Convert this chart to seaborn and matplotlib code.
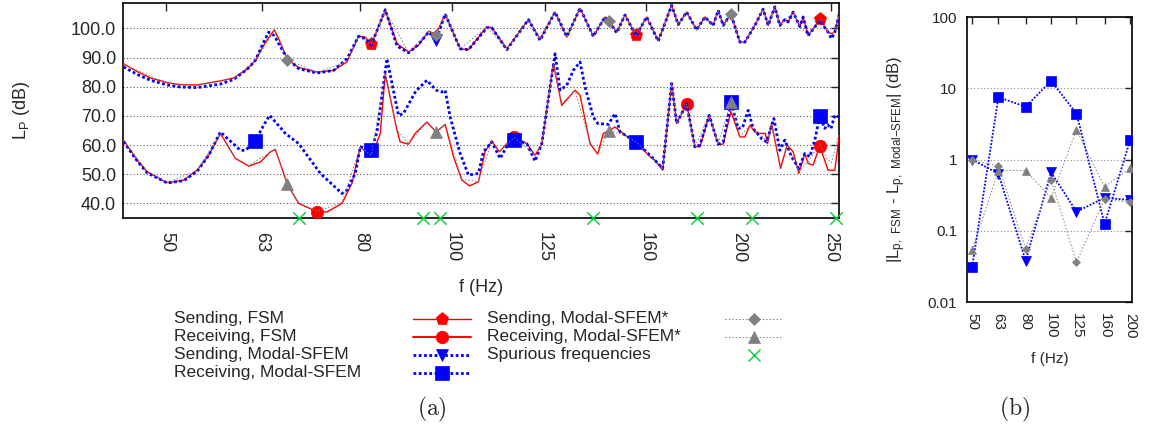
import numpy as np
import matplotlib
matplotlib.use("Agg")
import matplotlib.pyplot as plt
from matplotlib.lines import Line2D
from matplotlib.ticker import NullLocator
import seaborn as sns

# ---------------------------------------------------------------- data (a)
# sound pressure level in the sending room, frequency grid shared by FSM and Modal-SFEM
f_snd = [45.06, 46.58, 48.10, 50.08, 51.72, 53.86, 56.98, 58.85, 60.79, 62.02,
         63.28, 64.05, 64.94, 65.62, 67.02, 68.88, 72.02, 74.97, 77.44, 79.65,
         80.95, 82.14, 84.97, 87.41, 89.90, 92.10, 94.36, 96.14, 98.25, 101.89,
         103.96, 108.69, 110.01, 114.08, 120.21, 123.66, 128.23, 131.92, 136.24, 140.69,
         144.74, 146.15, 148.90, 151.92, 156.02, 160.11, 164.67, 170.11, 172.85, 176.40,
         180.72, 184.39, 188.13, 190.42, 192.74, 196.37, 200.70, 203.14, 208.12, 212.34,
         214.93, 218.45, 221.11, 223.80, 225.60, 228.35, 232.08, 233.94, 236.79, 243.59,
         248.53, 250.61, 252.62, 255.26]
snd_fsm = [87.9, 85.2, 83.0, 81.4, 80.7, 80.6, 82.0, 83.0, 86.0, 89.0,
           94.2, 96.8, 99.5, 96.5, 89.4, 86.6, 85.0, 85.6, 88.5, 97.3,
           97.0, 94.5, 106.2, 94.8, 91.9, 94.2, 99.0, 98.0, 104.9, 93.0,
           92.7, 100.5, 100.2, 93.0, 103.0, 96.3, 105.6, 97.0, 106.9, 97.3,
           103.9, 102.5, 98.7, 104.6, 97.6, 103.9, 95.8, 107.9, 101.3, 105.6,
           99.5, 103.9, 101.0, 106.2, 101.0, 105.0, 95.3, 95.3, 101.0, 106.6,
           101.0, 107.4, 101.0, 103.0, 102.2, 105.6, 100.6, 103.9, 97.5, 103.1,
           98.7, 98.2, 98.7, 104.7]
snd_modal = [86.8, 84.2, 82.2, 80.6, 79.9, 79.7, 80.9, 82.5, 86.0, 89.0,
             95.3, 98.7, 97.5, 94.8, 89.6, 86.2, 84.7, 85.6, 89.6, 97.3,
             96.5, 94.3, 106.4, 94.0, 91.6, 94.5, 98.7, 96.1, 104.9, 93.0,
             92.7, 100.2, 100.2, 92.7, 103.0, 95.9, 105.6, 97.2, 106.9, 97.3,
             103.9, 102.4, 98.5, 104.6, 97.4, 103.9, 95.6, 107.9, 101.3, 105.6,
             99.5, 103.9, 101.0, 106.2, 101.0, 105.0, 95.3, 95.3, 101.0, 106.6,
             101.0, 107.4, 101.0, 103.0, 102.2, 105.6, 100.6, 103.9, 97.5, 102.7,
             98.7, 96.5, 98.7, 104.7]

# receiving room, FSM
f_rcv_fsm = [45.06, 46.58, 47.72, 50.08, 52.14, 53.86, 55.39, 56.98, 59.09, 61.03,
             62.78, 64.32, 65.10, 67.02, 68.88, 72.07, 73.78, 76.51, 78.39, 79.98,
             82.14, 83.95, 84.97, 87.41, 88.11, 89.90, 91.37, 93.99, 96.14, 98.25,
             100.25, 102.31, 104.21, 106.50, 108.20, 110.01, 112.06, 115.00, 116.11, 119.74,
             122.17, 124.17, 127.71, 130.33, 134.60, 136.24, 139.57, 142.20, 144.14, 146.15,
             148.28, 151.92, 156.02, 161.40, 163.36, 166.44, 170.11, 172.18, 176.40, 179.98,
             182.17, 186.32, 190.42, 192.74, 196.37, 200.70, 203.14, 205.61, 208.12, 210.66,
             213.50, 214.62, 216.71, 221.49, 225.05, 228.35, 231.52, 234.90, 236.79, 239.67,
             243.59, 248.53, 252.62, 255.26]
rcv_fsm = [61.7, 54.8, 50.8, 47.1, 48.0, 51.4, 56.5, 64.0, 55.4, 52.8,
           54.2, 57.7, 58.5, 46.6, 40.0, 37.1, 37.1, 40.0, 46.9, 59.4,
           56.0, 64.0, 84.5, 65.1, 61.1, 60.3, 64.0, 67.9, 64.5, 67.1,
           56.0, 48.0, 46.0, 47.4, 57.7, 61.4, 57.7, 61.7, 62.8, 60.5,
           56.5, 60.3, 87.9, 73.6, 78.8, 77.1, 60.5, 56.9, 64.0, 64.9,
           66.2, 63.4, 61.1, 56.0, 54.8, 51.4, 81.1, 67.4, 74.2, 59.4,
           59.4, 70.2, 60.3, 60.3, 71.5, 62.8, 62.8, 66.8, 64.5, 64.0,
           64.0, 60.5, 67.4, 52.0, 60.0, 57.7, 50.3, 57.1, 53.7, 53.1,
           59.7, 51.4, 51.4, 62.8]

# receiving room, Modal-SFEM
f_rcv_modal = [45.06, 46.58, 47.72, 50.08, 52.14, 53.86, 55.39, 56.98, 59.81, 60.54,
               62.02, 63.28, 64.21, 66.70, 68.88, 72.60, 76.51, 77.44, 79.02, 79.98,
               82.14, 83.28, 85.32, 87.75, 88.80, 91.50, 93.99, 96.14, 97.47, 98.25,
               99.45, 101.89, 103.96, 106.50, 107.80, 110.01, 112.25, 115.00, 116.11, 119.74,
               122.17, 124.17, 128.23, 129.80, 131.92, 134.04, 136.24, 137.90, 140.69, 142.20,
               145.90, 148.28, 150.09, 156.02, 161.40, 163.36, 166.44, 170.11, 172.18, 176.40,
               179.98, 182.17, 186.32, 190.42, 192.74, 196.37, 199.90, 202.00, 204.77, 207.26,
               211.52, 214.10, 217.92, 221.11, 223.80, 227.46, 231.52, 234.90, 237.76, 240.66,
               243.59, 246.56, 248.20, 250.30, 252.62, 255.26]
rcv_modal = [61.2, 54.5, 50.5, 47.0, 47.8, 51.0, 56.5, 64.5, 58.2, 58.2,
             61.4, 66.8, 70.2, 64.0, 60.5, 50.3, 43.4, 44.6, 50.3, 59.4,
             58.2, 64.5, 89.6, 70.2, 70.8, 78.5, 82.2, 78.8, 78.2, 78.8,
             69.6, 57.1, 49.7, 50.3, 57.7, 61.1, 55.4, 61.7, 61.9, 60.5,
             54.5, 60.5, 91.3, 78.8, 80.5, 85.6, 88.5, 79.9, 69.6, 67.4,
             67.1, 70.8, 64.5, 61.1, 56.5, 54.8, 52.0, 81.1, 67.4, 74.2,
             59.4, 60.0, 70.2, 60.3, 61.0, 74.8, 65.7, 66.0, 71.9, 65.7,
             62.2, 61.1, 69.1, 58.2, 61.7, 56.0, 52.0, 57.1, 56.0, 61.7,
             70.0, 65.7, 67.0, 65.7, 70.2, 69.6]

# Modal-SFEM* (sending / receiving)
f_snd_star = [45.06, 50.08, 53.86, 58.85, 62.02, 64.94, 67.02, 72.02, 77.44, 79.65,
              82.14, 84.97, 89.90, 94.36, 96.14, 98.25, 101.89, 108.69, 114.08, 120.21,
              123.66, 128.23, 131.92, 136.24, 140.69, 144.74, 146.15, 148.90, 151.92, 156.02,
              160.11, 164.67, 170.11, 172.85, 176.40, 180.72, 184.39, 188.13, 190.42, 192.74,
              196.37, 200.70, 203.14, 208.12, 212.34, 214.93, 218.45, 221.11, 228.35, 232.08,
              236.79, 243.59, 248.53, 252.62, 255.26]
snd_star = [87.6, 81.2, 80.4, 82.8, 89.0, 99.2, 89.3, 84.9, 88.6, 97.2,
            94.6, 106.2, 91.8, 98.9, 97.7, 104.9, 93.1, 100.4, 93.0, 103.0,
            96.3, 105.6, 97.1, 106.8, 97.3, 103.8, 102.4, 98.7, 104.5, 97.7,
            103.8, 95.8, 107.8, 101.3, 105.5, 99.5, 103.9, 101.0, 106.1, 101.0,
            105.0, 95.4, 95.4, 101.0, 106.5, 101.1, 107.3, 101.1, 105.5, 100.7,
            97.6, 103.0, 98.6, 98.6, 104.6]
f_rcv_star = [45.06, 47.72, 50.08, 53.86, 56.98, 59.09, 61.03, 64.32, 65.10, 67.02,
              68.88, 72.07, 76.51, 79.98, 82.14, 84.97, 87.41, 89.90, 93.99, 96.14,
              98.25, 102.31, 106.50, 110.01, 112.06, 116.11, 122.17, 124.17, 127.71, 130.33,
              134.60, 139.57, 142.20, 146.15, 151.92, 156.02, 161.40, 166.44, 170.11, 172.18,
              176.40, 179.98, 186.32, 190.42, 196.37, 200.70, 205.61, 210.66, 214.62, 216.71,
              221.49, 225.05, 231.52, 236.79, 243.59, 247.50, 250.61, 255.26]
rcv_star = [61.5, 51.0, 47.2, 51.3, 64.0, 55.6, 53.0, 57.6, 58.4, 46.6,
            40.2, 37.3, 40.3, 59.3, 56.5, 84.3, 65.3, 60.5, 67.8, 64.5,
            67.0, 48.2, 47.6, 61.3, 57.9, 62.6, 56.6, 60.2, 87.6, 74.3,
            78.6, 60.9, 57.0, 64.9, 63.4, 61.1, 56.2, 51.6, 81.0, 67.5,
            74.1, 59.5, 70.2, 60.4, 74.8, 63.0, 66.6, 64.0, 60.8, 67.0,
            53.0, 60.0, 51.0, 54.2, 60.5, 55.5, 54.0, 64.0]

# frequencies carrying a point symbol on each curve
marks_snd_fsm = [82.14, 156.02, 243.59]
marks_rcv_fsm = [72.07, 116.11, 176.40, 243.59]
marks_snd_modal = [96.14]
marks_rcv_modal = [62.02, 82.14, 116.11, 156.02, 196.37, 243.59]
marks_star = [67.02, 96.14, 146.15, 196.37]

# spurious frequencies of the modal model
spur_freqs = [69.0, 93.2, 97.1, 140.6, 180.9, 206.6, 253.2]

freq_ticks = [50, 63, 80, 100, 125, 160, 200, 250]

# ---------------------------------------------------------------- data (b)
bands = [50, 63, 80, 100, 125, 160, 200]
diff_snd_modal = [1.0, 0.63, 0.038, 0.66, 0.185, 0.29, 0.27]
diff_rcv_modal = [0.031, 7.5, 5.5, 12.7, 4.4, 0.125, 1.85]
diff_snd_star = [0.97, 0.82, 0.056, 0.52, 0.036, 0.28, 0.25]
diff_rcv_star = [0.053, 0.70, 0.70, 0.29, 2.6, 0.41, 0.76]

# ---------------------------------------------------------------- style
sns.set_style("white")
plt.rcParams["font.family"] = ["Liberation Sans", "DejaVu Sans"]
plt.rcParams["mathtext.default"] = "regular"

RED = "#ff0000"
BLUE = "#0000ff"
GRAY = "#808080"
GREEN = "#00cc33"
BLUE_DOT = (0, (1.0, 0.9))
GRAY_DOT = (0, (1.5, 2.0))

W, H = 1150, 436
fig = plt.figure(figsize=(W / 100, H / 100), dpi=100)
ax = fig.add_axes([123 / W, 1 - 218 / H, (839 - 123) / W, (218 - 3) / H])
axb = fig.add_axes([967 / W, 1 - 302 / H, (1132 - 967) / W, (302 - 17) / H])


def mark_idx(freqs, at):
    f = np.asarray(freqs)
    return [i for i, v in enumerate(f) if np.any(np.isclose(v, at, atol=1e-6))]


def curve(axis, x, y, color, lw, ls, marker, ms, every, z):
    sns.lineplot(x=x, y=y, ax=axis, color=color, linewidth=lw, linestyle=ls,
                 marker=marker, markersize=ms, markevery=every,
                 markerfacecolor=color, markeredgecolor=color, markeredgewidth=0.5,
                 sort=False, estimator=None, zorder=z)


# ---------------------------------------------------------------- panel (a)
ax.set_xscale("log")
curve(ax, f_snd, snd_fsm, RED, 1.0, "-", "p", 9.5, mark_idx(f_snd, marks_snd_fsm), 3)
curve(ax, f_rcv_fsm, rcv_fsm, RED, 1.0, "-", "o", 9.0, mark_idx(f_rcv_fsm, marks_rcv_fsm), 3)
curve(ax, f_snd, snd_modal, BLUE, 2.0, BLUE_DOT, "v", 8.5, mark_idx(f_snd, marks_snd_modal), 4)
curve(ax, f_rcv_modal, rcv_modal, BLUE, 2.0, BLUE_DOT, "s", 9.5, mark_idx(f_rcv_modal, marks_rcv_modal), 4)
curve(ax, f_snd_star, snd_star, GRAY, 0.7, GRAY_DOT, "D", 6.5, mark_idx(f_snd_star, marks_star), 5)
curve(ax, f_rcv_star, rcv_star, GRAY, 0.7, GRAY_DOT, "^", 8.5, mark_idx(f_rcv_star, marks_star), 5)

y_lo, y_hi = 35.0, 108.7
sns.scatterplot(x=spur_freqs, y=[y_lo] * len(spur_freqs), ax=ax, marker="x",
                color=GREEN, s=80, linewidth=1.0, clip_on=False, zorder=6)

ax.set_xlim(45.0, 255.2)
ax.set_ylim(y_lo, y_hi)
ax.set_xticks(freq_ticks)
ax.set_xticklabels([str(v) for v in freq_ticks])
ax.xaxis.set_minor_locator(NullLocator())
ax.set_yticks([40, 50, 60, 70, 80, 90, 100])
ax.set_yticklabels([f"{v:.1f}" for v in range(40, 101, 10)])
ax.tick_params(axis="both", direction="in", top=True, right=True, length=6,
               width=1.0, labelsize=13)
ax.tick_params(axis="x", labelrotation=-90, pad=10)
ax.tick_params(axis="y", pad=5)
for lab in ax.get_xticklabels():
    lab.set_verticalalignment("top")
ax.yaxis.grid(True, linestyle=(0, (1, 2)), color="0.35", linewidth=0.8)
ax.xaxis.grid(False)
ax.set_axisbelow(True)
for sp in ax.spines.values():
    sp.set_linewidth(1.2)
    sp.set_color("black")
ax.set_xlabel("f (Hz)", fontsize=13)
ax.xaxis.set_label_coords(0.5, -0.285)
ax.set_ylabel("L$_P$ (dB)", fontsize=13)
ax.yaxis.set_label_coords(-0.127, 0.5)

# legend of panel (a): text on the left, line sample on the right
leg_rows = [1 - 318.7 / H, 1 - 336.5 / H, 1 - 354.7 / H, 1 - 372.5 / H]
legend_items = [
    [("Sending, FSM", RED, 1.0, "-", "p", 9.5),
     ("Receiving, FSM", RED, 1.4, "-", "o", 9.0),
     ("Sending, Modal-SFEM", BLUE, 2.0, BLUE_DOT, "v", 8.5),
     ("Receiving, Modal-SFEM", BLUE, 2.0, BLUE_DOT, "s", 9.5)],
    [("Sending, Modal-SFEM*", GRAY, 0.7, GRAY_DOT, "D", 6.5),
     ("Receiving, Modal-SFEM*", GRAY, 0.7, GRAY_DOT, "^", 8.5),
     ("Spurious frequencies", GREEN, 1.0, "none", "x", 9.0)],
]
col_text_x = [174 / W, 487 / W]
col_line_x = [(413 / W, 471 / W), (725 / W, 782 / W)]
for c, items in enumerate(legend_items):
    x0, x1 = col_line_x[c]
    for r, (label, color, lw, ls, mk, ms) in enumerate(items):
        y = leg_rows[r]
        fig.text(col_text_x[c], y, label, fontsize=12.5, ha="left", va="center")
        fig.add_artist(Line2D([x0, (x0 + x1) / 2, x1], [y, y, y], transform=fig.transFigure,
                              color=color, linewidth=lw, linestyle=ls, marker=mk,
                              markersize=ms, markevery=[1], markerfacecolor=color,
                              markeredgecolor=color, markeredgewidth=1.0 if mk == "x" else 0.5))

# ---------------------------------------------------------------- panel (b)
axb.set_xscale("log")
axb.set_yscale("log")
curve(axb, bands, diff_snd_modal, BLUE, 1.3, BLUE_DOT, "v", 6.5, None, 3)
curve(axb, bands, diff_rcv_modal, BLUE, 1.3, BLUE_DOT, "s", 6.5, None, 3)
curve(axb, bands, diff_snd_star, GRAY, 0.7, GRAY_DOT, "D", 4.0, None, 4)
curve(axb, bands, diff_rcv_star, GRAY, 0.7, GRAY_DOT, "^", 5.5, None, 4)

axb.set_xlim(47.8, 203.5)
axb.set_ylim(0.01, 100)
axb.set_xticks(bands)
axb.set_xticklabels([str(v) for v in bands])
axb.xaxis.set_minor_locator(NullLocator())
axb.set_yticks([0.01, 0.1, 1, 10, 100])
axb.set_yticklabels(["0.01", "0.1", "1", "10", "100"])
axb.yaxis.set_minor_locator(NullLocator())
axb.tick_params(axis="both", direction="in", top=True, right=True, length=5,
                width=1.0, labelsize=11)
axb.tick_params(axis="x", labelrotation=-90, pad=8)
axb.tick_params(axis="y", pad=7)
for lab in axb.get_xticklabels():
    lab.set_verticalalignment("top")
axb.yaxis.grid(True, linestyle=(0, (1, 2)), color="0.55", linewidth=0.8)
axb.xaxis.grid(False)
axb.set_axisbelow(True)
for sp in axb.spines.values():
    sp.set_linewidth(1.2)
    sp.set_color("black")
axb.set_xlabel("f (Hz)", fontsize=11)
axb.xaxis.set_label_coords(0.5, -0.175)
axb.set_ylabel("|L$_{p,\\ FSM}$ - L$_{p,\\ Modal{-}SFEM}$| (dB)", fontsize=12)
axb.yaxis.set_label_coords(-0.36, 0.5)

# panel captions
fig.text(432 / W, 1 - 409 / H, r"$\mathrm{(a)}$", fontsize=17, ha="center",
         va="center", math_fontfamily="cm")
fig.text(1015 / W, 1 - 409 / H, r"$\mathrm{(b)}$", fontsize=17, ha="center",
         va="center", math_fontfamily="cm")

fig.savefig("out.png", dpi=100)
